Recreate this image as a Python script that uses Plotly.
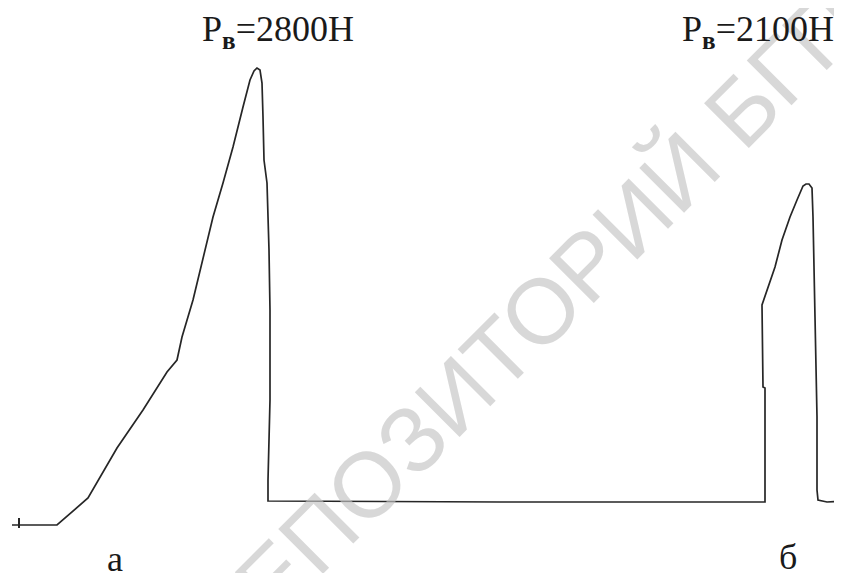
import plotly.graph_objects as go

# Trace of the load record (x = travel/time in picture units, load = height above bottom edge)
x_a = [12, 57, 88, 117, 143, 167, 177, 182, 193, 203, 213, 223, 233, 243, 250, 254, 257, 260,
       262, 263, 264, 267, 269, 270, 270, 268, 268, 500, 765]
load_a = [48, 48, 75, 125, 163, 201, 213, 236, 273, 316, 356, 390, 426, 466, 493, 502, 505, 503,
          490, 456, 413, 390, 323, 263, 173, 93, 72, 71, 71]

x_b = [765, 765, 763, 762, 767, 775, 782, 790, 797, 803, 806, 809, 812, 813, 815, 817, 817, 818, 827, 842]
load_b = [71, 185, 186, 268, 283, 306, 333, 356, 373, 387, 389, 389, 385, 356, 256, 156, 83, 73, 71, 72]

tick_x = [19, 19]
tick_load = [55, 45]

peak_labels = ["Р<sub><b>в</b></sub>=2800Н", "Р<sub><b>в</b></sub>=2100Н"]
peak_label_x = [278, 758]
panel_labels = ["а", "б"]
panel_label_x = [115, 788]
panel_label_y = [559, 557]

W, H = 842, 573
PAGE_MARGIN = 8  # default body margin of the html page

fig = go.Figure()
fig.add_trace(go.Scatter(x=x_a + x_b, y=load_a + load_b, mode="lines",
                         line=dict(color="#262626", width=1.7), hoverinfo="skip"))
fig.add_trace(go.Scatter(x=tick_x, y=tick_load, mode="lines",
                         line=dict(color="#262626", width=2), hoverinfo="skip"))

annotations = []
# watermark
annotations.append(dict(x=547, y=H - 303, xref="x", yref="y", text="РЕПОЗИТОРИЙ БГПУ",
                        showarrow=False, textangle=-45,
                        font=dict(family="Liberation Sans", size=92, color="rgba(195,195,195,0.65)")))
for t, xx in zip(peak_labels, peak_label_x):
    annotations.append(dict(x=xx, y=H - 31, xref="x", yref="y", text=t, showarrow=False,
                            font=dict(family="Liberation Serif", size=36, color="#1a1a1a")))
for t, xx, yy in zip(panel_labels, panel_label_x, panel_label_y):
    annotations.append(dict(x=xx, y=H - yy, xref="x", yref="y", text=t, showarrow=False,
                            font=dict(family="Liberation Serif", size=36, color="#1a1a1a")))

fig.update_layout(
    width=W - PAGE_MARGIN, height=H - PAGE_MARGIN,
    margin=dict(l=0, r=0, t=0, b=0),
    paper_bgcolor="white", plot_bgcolor="white",
    showlegend=False,
    xaxis=dict(range=[PAGE_MARGIN, W], visible=False, fixedrange=True),
    yaxis=dict(range=[0, H - PAGE_MARGIN], visible=False, fixedrange=True),
    annotations=annotations,
)

fig.write_html("out.html")
